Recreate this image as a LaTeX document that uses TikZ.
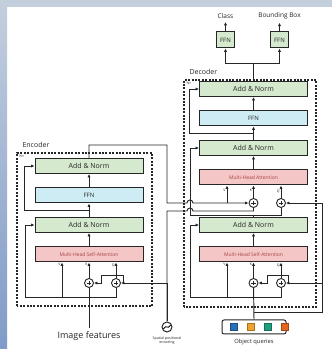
\documentclass[tikz,border=0pt]{standalone}
\usepackage{fontspec}
\setmainfont{Open Sans}
\usetikzlibrary{positioning,calc,arrows.meta}
\definecolor{addgreen}{HTML}{D4E9CD}
\definecolor{ffnblue}{HTML}{CDECF3}
\definecolor{attred}{HTML}{F4C6C6}
\definecolor{attredtxt}{HTML}{A84444}
\definecolor{linegray}{HTML}{262626}
\definecolor{framegray}{HTML}{C4CFDD}
\definecolor{frameblue}{HTML}{7F9BC8}
\definecolor{qblue}{HTML}{2A6FB8}
\definecolor{qorange}{HTML}{F0A22E}
\definecolor{qteal}{HTML}{1E9E7E}
\definecolor{qrust}{HTML}{E2641E}

\begin{document}
\begin{tikzpicture}[x=1pt,y=1pt,node distance=13.5pt,
  every node/.style={font=\fontsize{7}{8}\selectfont,text=linegray},
  blk/.style={draw=linegray,line width=1pt,minimum height=15pt,inner sep=0pt},
  addbox/.style={blk,fill=addgreen,minimum width=108pt},
  ffnbox/.style={blk,fill=ffnblue,minimum width=108pt,font=\fontsize{6}{7}\selectfont},
  attbox/.style={blk,fill=attred,minimum width=108pt,text=attredtxt,font=\fontsize{5}{6}\selectfont},
  headbox/.style={blk,fill=addgreen,minimum width=18pt,minimum height=16pt,font=\fontsize{6}{7}\selectfont},
  plusc/.style={circle,draw=linegray,line width=0.9pt,minimum size=9pt,inner sep=0pt,fill=white,
    path picture={\draw[line width=0.6pt] ($(path picture bounding box.center)+(-2.2pt,0)$) -- ++(4.4pt,0)
      ($(path picture bounding box.center)+(0,-2.2pt)$) -- ++(0,4.4pt);}},
  lbl/.style={font=\fontsize{3.5}{4}\selectfont,inner sep=0.3pt},
  frame/.style={draw=linegray,line width=1.1pt,dash pattern=on 2pt off 1.4pt},
  ln/.style={draw=linegray,line width=0.95pt},
  arr/.style={ln,-{Latex[length=3.4pt,width=3.2pt]}}]
\useasboundingbox (0,0) rectangle (332,349);
% screenshot edge
\fill[framegray] (0,342) rectangle (332,349);
\shade[top color=framegray,bottom color=frameblue] (0,0) rectangle (7,349);

% encoder
\draw[frame] (17,43) rectangle (152,196);
\node[anchor=base west] (enctitle) at (19,201) {Encoder};
\node[lbl,anchor=north west] (encn) at (19,194) {N×};
\node[attbox] (eatt) at (89,94.5) {Multi-Head Self-Attention};
\node[addbox,above=of eatt] (eadd1) {Add \& Norm};
\node[ffnbox,above=of eadd1] (effn) {FFN};
\node[addbox,above=of effn] (eadd2) {Add \& Norm};
\node[plusc] (ek) at (89,66) {};
\node[plusc] (eq) at (116,66) {};
\node[font=\fontsize{9}{10}\selectfont] (img) at (89,13) {Image features};
\node[lbl,anchor=north east] at (61,86) {V};
\node[lbl,anchor=north east] at (88,86) {K};
\node[lbl,anchor=north east] at (115,86) {Q};

% decoder
\draw[frame] (184,42) rectangle (316,269);
\node[anchor=base west] (dectitle) at (186,274) {Decoder};
\node[lbl,anchor=north west] (decn) at (186,267) {N×};
\node[attbox] (datt) at (253.5,94.5) {Multi-Head Self-Attention};
\node[addbox,above=of datt] (dadd1) {Add \& Norm};
\node[attbox,above=31.5pt of dadd1] (dmha) {Multi-Head Attention};
\node[addbox,above=of dmha] (dadd2) {Add \& Norm};
\node[ffnbox,above=of dadd2] (dffn) {FFN};
\node[addbox,above=of dffn] (dadd3) {Add \& Norm};
\node[plusc] (dsk) at (253.5,66) {};
\node[plusc] (dsq) at (281,66) {};
\node[plusc] (ck) at (253.5,146) {};
\node[plusc] (cq) at (281,146) {};
\node[lbl,anchor=north east] at (226,86) {V};
\node[lbl,anchor=north east] at (252.5,86) {K};
\node[lbl,anchor=north east] at (280,86) {Q};
\node[lbl,anchor=north east] at (226,160) {V};
\node[lbl,anchor=north east] at (252.5,160) {K};
\node[lbl,anchor=north east] at (280,160) {Q};

% heads
\node[headbox] (ffc) at (225.5,309) {FFN};
\node[headbox] (ffb) at (279.5,309) {FFN};
\node[font=\fontsize{6.5}{7}\selectfont] (cls) at (225.5,333) {Class};
\node[font=\fontsize{6.5}{7}\selectfont] (bbox) at (279.5,333) {Bounding Box};

% inputs
\node[circle,draw=linegray,line width=1pt,minimum size=10pt,inner sep=0pt] (pe) at (167,22) {};
\draw[line width=0.9pt] ($(pe)+(-3.6,-1.8)$) .. controls ($(pe)+(-0.8,3)$) and ($(pe)+(0.8,-3)$) .. ($(pe)+(3.6,1.8)$);
\node[font=\fontsize{3.6}{4}\selectfont,align=center,below=0.8pt of pe] (pelbl) {Spatial positional\\encoding};
\node[draw=linegray,line width=1pt,rounded corners=2pt,minimum width=64pt,minimum height=14pt,fill=white] (oq) at (254,22) {};
\foreach \c [count=\i] in {qblue,qorange,qteal,qrust}
  \filldraw[fill=\c,draw=\c!70!black,line width=0.3pt] ($(oq.west)+(-8.5+\i*17,-3.5)$) rectangle ++(7,7);
\node[font=\fontsize{5.8}{6}\selectfont,below=1pt of oq] (oqlbl) {Object queries};

% encoder wiring
\draw[ln] (img) -- (ek);
\draw[arr] (ek) -- (ek |- eatt.south);
\draw[arr] (eq) -- (eq |- eatt.south);
\draw[arr] (eq.south) |- (25,52) |- (eadd1.west);
\draw[arr] (62,52) -- (62,52 |- eatt.south);
\draw[arr] (pe.north) |- (eq.east);
\draw[arr] (123,66) -- (123,74) -- (101,74) -- (101,66) -- (ek.east);
\draw[arr] (eatt) -- (eadd1);
\draw[arr] (eadd1) -- (effn);
\draw[arr] (effn) -- (eadd2);
\draw[arr] ($(eadd1.north)!.5!(effn.south)$) -| ([xshift=-10pt]eadd2.west) -- (eadd2.west);

% encoder to decoder
\draw[arr] (eadd2.north) |- (167,204) -- (167,146) -- (187,146) arc (180:0:3) -- (ck.west);
\draw[ln] (pe.north) -- (167,138) -- (187,138) arc (180:0:3) -- (253.5,138) -- (ck.south);
\draw[arr] (227,146) -- (227,146 |- dmha.south);
\draw[arr] (ck) -- (ck |- dmha.south);
\draw[arr] (cq) -- (cq |- dmha.south);

% decoder wiring
\draw[ln] (oq.north) -- (dsk);
\draw[arr] (253.5,37) -| (322,146) -- (cq.east);
\draw[arr] (322,66) -- (dsq.east);
\draw[arr] (288,66) -- (288,74) -- (267,74) -- (267,66) -- (dsk.east);
\draw[arr] (dsk) -- (dsk |- datt.south);
\draw[arr] (dsq) -- (dsq |- datt.south);
\draw[arr] (dsq.south) |- (190,52) |- (dadd1.west);
\draw[arr] (227,52) -- (227,52 |- datt.south);
\draw[arr] (datt) -- (dadd1);
\draw[ln] (dadd1.north) -- (253.5,134);
\draw[ln] (190,134) -- (281,134) -- (cq.south);
\draw[arr] (190,134) |- (dadd2.west);
\draw[arr] (dmha) -- (dadd2);
\draw[arr] (dadd2) -- (dffn);
\draw[arr] (dffn) -- (dadd3);
\draw[arr] ($(dadd2.north)!.5!(dffn.south)$) -| ([xshift=-10pt]dadd3.west) -- (dadd3.west);
\draw[ln] (dadd3.north) -- (253.5,286);
\draw[arr] (253.5,286) -| (ffc.south);
\draw[arr] (253.5,286) -| (ffb.south);
\draw[arr] (ffc) -- (cls);
\draw[arr] (ffb) -- (bbox);
\end{tikzpicture}
\end{document}
